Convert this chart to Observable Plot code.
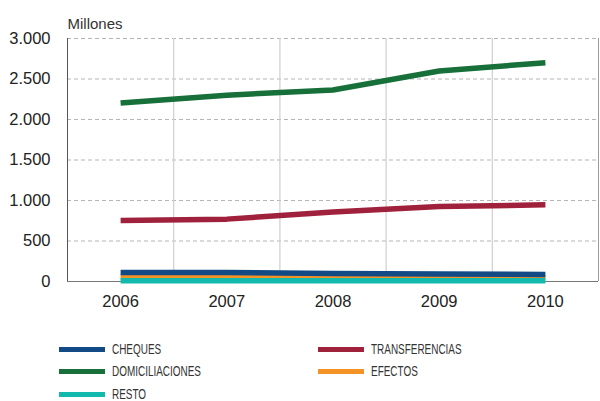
<!DOCTYPE html>
<html>
<head>
<meta charset="utf-8">
<script src="https://cdn.jsdelivr.net/npm/d3@7"></script>
<script src="https://cdn.jsdelivr.net/npm/@observablehq/plot@0.6"></script>
<style>
  body { margin: 0; background: #fff; font-family: "Liberation Sans", Arial, sans-serif; }
  #wrap { width: 600px; height: 401px; position: relative; overflow: hidden; }
  #legend { position: absolute; left: 59px; top: 342.5px; display: grid; grid-template-columns: 259px auto; grid-auto-rows: 13px; row-gap: 9.5px; }
  .item { display: flex; align-items: center; font-family: "Liberation Sans", Arial, sans-serif; font-size: 14px; line-height: 13px; height: 13px; color: #333; }
  .sw { width: 46px; height: 5px; margin-right: 7px; flex: none; }
  .lbl { display: inline-block; transform: scaleX(0.71); transform-origin: left center; white-space: nowrap; }
</style>
</head>
<body>
<div id="wrap"></div>
<script>
const years = [2006, 2007, 2008, 2009, 2010];
const seriesNames = ["CHEQUES", "TRANSFERENCIAS", "DOMICILIACIONES", "EFECTOS", "RESTO"];
const seriesColors = ["#124a85", "#a0213b", "#176f3a", "#f39325", "#13b9ac"];
const cheques = [112, 110, 100, 92, 86];
const transferencias = [752, 770, 858, 926, 946];
const domiciliaciones = [2205, 2300, 2365, 2598, 2702];
const efectos = [57, 55, 52, 50, 48];
const resto = [8, 8, 8, 8, 8];
const yTicks = [0, 500, 1000, 1500, 2000, 2500, 3000];

const valuesBySeries = {
  CHEQUES: cheques,
  TRANSFERENCIAS: transferencias,
  DOMICILIACIONES: domiciliaciones,
  EFECTOS: efectos,
  RESTO: resto
};
const drawOrder = ["DOMICILIACIONES", "TRANSFERENCIAS", "EFECTOS", "CHEQUES", "RESTO"];
const rows = drawOrder.flatMap(s => years.map((y, i) => ({serie: s, year: y, value: valuesBySeries[s][i]})));
const fmt = d => d3.format(",")(d).replace(/,/g, ".");
const vGrid = [2006.5, 2007.5, 2008.5, 2009.5];

const chart = Plot.plot({
  width: 600,
  height: 320,
  marginTop: 38,
  marginBottom: 39,
  marginLeft: 67,
  marginRight: 2,
  style: {fontFamily: "Liberation Sans, Arial, sans-serif", fontSize: "16.5px", color: "#222", background: "#fff"},
  x: {domain: [2005.5, 2010.5], ticks: years, tickFormat: d => String(d), tickSize: 0, tickPadding: 14, label: null},
  y: {domain: [0, 3000], ticks: yTicks, tickFormat: fmt, tickSize: 0, tickPadding: 17, label: null},
  color: {domain: seriesNames, range: seriesColors},
  marks: [
    Plot.ruleY(yTicks.filter(d => d > 0), {stroke: "#b5b5b5", strokeDasharray: "4,3", strokeWidth: 1}),
    Plot.ruleX(vGrid, {stroke: "#cfcfcf", strokeWidth: 1.2}),
    Plot.ruleX([2010.5], {stroke: "#9a9a9a", strokeWidth: 1}),
    Plot.ruleX([2005.5], {stroke: "#555", strokeWidth: 1}),
    Plot.ruleY([0], {stroke: "#777", strokeWidth: 1.2}),
    Plot.line(rows, {x: "year", y: "value", z: "serie", stroke: "serie", strokeWidth: 5.5, strokeLinecap: "butt", strokeLinejoin: "round"}),
    Plot.text(["Millones"], {frameAnchor: "top-left", dy: -20, dx: 0, textAnchor: "start", fontSize: 15, fill: "#333"})
  ]
});
document.getElementById("wrap").appendChild(chart);

const legendOrder = ["CHEQUES", "TRANSFERENCIAS", "DOMICILIACIONES", "EFECTOS", "RESTO"];
const legend = document.createElement("div");
legend.id = "legend";
legendOrder.forEach(name => {
  const it = document.createElement("div");
  it.className = "item";
  const sw = document.createElement("span");
  sw.className = "sw";
  sw.style.background = seriesColors[seriesNames.indexOf(name)];
  const t = document.createElement("span");
  t.className = "lbl";
  t.textContent = name;
  it.appendChild(sw); it.appendChild(t);
  legend.appendChild(it);
});
document.getElementById("wrap").appendChild(legend);
</script>
</body>
</html>
